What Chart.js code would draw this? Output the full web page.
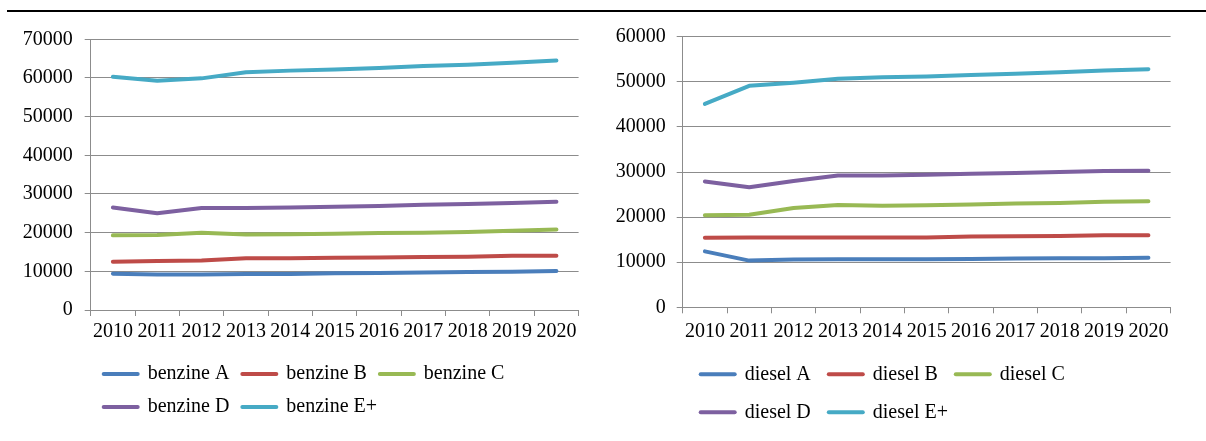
<!DOCTYPE html>
<html>
<head>
<meta charset="utf-8">
<script src="https://cdn.jsdelivr.net/npm/chart.js@4.4.0/dist/chart.umd.min.js"></script>
<style>
  html, body { margin:0; padding:0; background:#fff; }
  body { width:1206px; height:441px; position:relative; overflow:hidden; }
  #rule { position:absolute; left:7px; right:0; top:10px; height:2px; background:#000; }
  #chartBenzine { position:absolute; left:0; top:0; }
  #chartDiesel { position:absolute; left:600px; top:0; }
</style>
</head>
<body>
<div id="rule"></div>
<canvas id="chartBenzine" width="600" height="441"></canvas>
<canvas id="chartDiesel" width="606" height="441"></canvas>
<script>
// --- Data ---
const years = ["2010","2011","2012","2013","2014","2015","2016","2017","2018","2019","2020"];

const benzineNames = ["benzine A","benzine B","benzine C","benzine D","benzine E+"];
const benzineA  = [9400, 9200, 9150, 9300, 9300, 9500, 9600, 9700, 9800, 9900, 10100];
const benzineB  = [12500, 12700, 12800, 13400, 13400, 13500, 13600, 13700, 13800, 14000, 14050];
const benzineC  = [19300, 19400, 20000, 19500, 19600, 19700, 19900, 20000, 20200, 20500, 20800];
const benzineD  = [26500, 25000, 26400, 26400, 26500, 26700, 26900, 27200, 27400, 27700, 28000];
const benzineE  = [60300, 59300, 59900, 61500, 61900, 62200, 62600, 63100, 63400, 63950, 64500];

const dieselNames = ["diesel A","diesel B","diesel C","diesel D","diesel E+"];
const dieselA  = [12400, 10350, 10600, 10650, 10650, 10650, 10700, 10800, 10850, 10900, 11000];
const dieselB  = [15400, 15500, 15450, 15500, 15450, 15500, 15700, 15750, 15800, 15950, 16000];
const dieselC  = [20400, 20500, 22000, 22700, 22500, 22600, 22800, 23000, 23100, 23400, 23500];
const dieselD  = [27900, 26600, 28000, 29200, 29200, 29400, 29600, 29800, 30000, 30200, 30300];
const dieselE  = [45100, 49100, 49800, 50700, 51000, 51200, 51500, 51800, 52100, 52500, 52800];

// Excel-like series colours
const seriesColors = ["#4A7EBB","#BE4B48","#98B954","#7D60A0","#46AAC5"];
const gridColor = "#8C8C8C";

Chart.defaults.font.family = "'Liberation Serif', 'Times New Roman', serif";
Chart.defaults.font.size = 20;
Chart.defaults.color = "#000";

// --- Functions ---
function buildDatasets(names, series){
    return series.map((data,i)=>({
        label: names[i],
        data,
        borderColor: seriesColors[i],
        backgroundColor: seriesColors[i],
        borderWidth: 4,
        pointRadius: 0,
        pointHoverRadius: 0,
        tension: 0,
        fill: false,
        borderCapStyle: "round",
        borderJoinStyle: "round"
    }));
}

function makeChart(id, names, series, yMax, g){
    const ctx = document.getElementById(id).getContext("2d");
    return new Chart(ctx, {
        type: "line",
        data: { labels: years, datasets: buildDatasets(names, series) },
        options: {
            responsive: false,
            animation: false,
            layout: { padding: g.padding },
            plugins: {
                tooltip: { enabled: false },
                legend: {
                    position: "bottom",
                    align: "start",
                    fullSize: false, // legend starts at the plot's left edge
                    labels: {
                        usePointStyle: true,
                        pointStyle: "line",
                        pointStyleWidth: 34,
                        padding: g.legendPad,
                        color: "#000",
                        font: { size: 20 },
                        generateLabels(chart){
                            const items = Chart.defaults.plugins.legend.labels.generateLabels(chart);
                            items.forEach(it=>{ it.lineWidth = 4; it.lineCap = "round"; });
                            return items;
                        }
                    }
                }
            },
            scales: {
                x: {
                    offset: true,
                    grid: { offset: true, drawOnChartArea: false, drawTicks: true, tickLength: 6, color: gridColor },
                    border: { display: true, color: gridColor },
                    ticks: { maxRotation: 0, minRotation: 0, autoSkip: false, padding: g.xPad, font: { size: 20 } },
                    afterFit(scale){ scale.height = g.xHeight; }
                },
                y: {
                    min: 0,
                    max: yMax,
                    grid: { color: gridColor, lineWidth: 1, tickLength: 6 },
                    border: { display: true, color: gridColor },
                    ticks: { stepSize: 10000, padding: g.yPad, font: { size: 20 }, callback: v => String(v) },
                    afterFit(scale){ scale.width = g.yWidth; }
                }
            }
        }
    });
}

makeChart("chartBenzine", benzineNames,
    [benzineA, benzineB, benzineC, benzineD, benzineE], 70000,
    { padding: { left: 18, right: 21.4, top: 39.3, bottom: 14 },
      legendPad: 13, xPad: 4, xHeight: 41, yPad: 12, yWidth: 72.7 });

makeChart("chartDiesel", dieselNames,
    [dieselA, dieselB, dieselC, dieselD, dieselE], 60000,
    { padding: { left: 8, right: 35.4, top: 36.7, bottom: 8.7 },
      legendPad: 18, xPad: 6.5, xHeight: 39, yPad: 11, yWidth: 74.7 });
</script>
</body>
</html>
